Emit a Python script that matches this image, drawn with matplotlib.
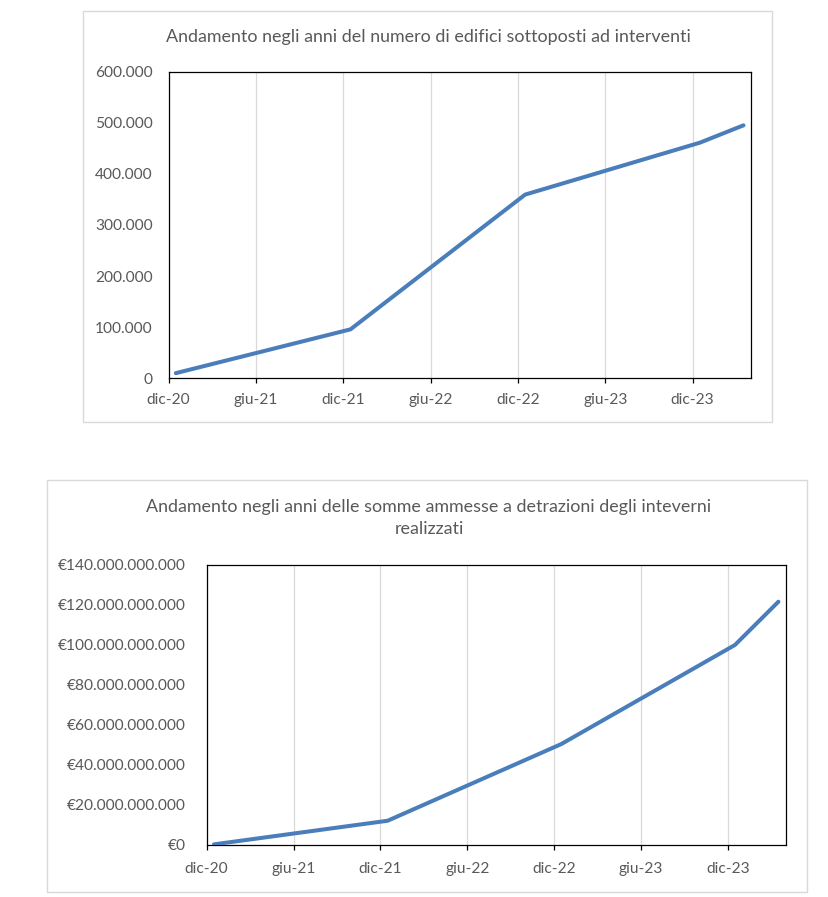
import matplotlib
matplotlib.use("Agg")
import matplotlib.pyplot as plt
from matplotlib.patches import Rectangle
from matplotlib.ticker import FuncFormatter, MultipleLocator

# ---- data ----
months = ["2020-12", "2021-12", "2022-12", "2023-12", "2024-03"]
edifici = [10000, 95718, 359440, 461000, 494990]
somme = [0.3e9, 12.1e9, 50.4e9, 99.9e9, 121.5e9]
tick_labels = ["dic-20", "giu-21", "dic-21", "giu-22", "dic-22", "giu-23", "dic-23"]
title_top = "Andamento negli anni del numero di edifici sottoposti ad interventi"
title_bot = "Andamento negli anni delle somme ammesse a detrazioni degli inteverni\nrealizzati"

def month_index(s):
    y, m = s.split("-")
    return (int(y) - 2020) * 12 + int(m) - 12

xpos = [month_index(m) + 0.5 for m in months]  # points at centre of month slot
n_months = month_index("2024-03") + 1

FONT = "Lato"
GRAY = "#595959"
BLUE = "#4a7ebb"

fig = plt.figure(figsize=(8.29, 8.97), dpi=100)

# chart frames
for (l, b, w, h) in [(0.1001, 0.5295, 0.8311, 0.4582), (0.0567, 0.0056, 0.9168, 0.4593)]:
    fig.patches.append(Rectangle((l, b), w, h, transform=fig.transFigure,
                                 facecolor="none", edgecolor="#d9d9d9", lw=1.0, zorder=-1))

def style(ax, values, ymax, ystep, fmt):
    ax.plot(xpos, values, color=BLUE, lw=2.9, solid_capstyle="round",
            solid_joinstyle="round", zorder=3)
    ax.set_xlim(0, n_months)
    ax.set_ylim(0, ymax)
    ax.set_xticks([i * 6 for i in range(len(tick_labels))])
    ax.set_xticklabels(tick_labels)
    ax.yaxis.set_major_locator(MultipleLocator(ystep))
    ax.yaxis.set_major_formatter(FuncFormatter(fmt))
    ax.grid(axis="x", color="#d9d9d9", lw=0.9, zorder=0)
    ax.set_axisbelow(True)
    for s in ax.spines.values():
        s.set_color("black")
        s.set_linewidth(0.9)
    ax.tick_params(axis="x", direction="out", length=3.6, width=0.9, color="black",
                   pad=7, labelsize=11.2, labelcolor=GRAY)
    ax.tick_params(axis="y", length=0, pad=11.5, labelsize=11.2, labelcolor=GRAY)
    for lab in ax.get_xticklabels() + ax.get_yticklabels():
        lab.set_fontfamily(FONT)

def fmt_num(v, p):
    return f"{v:,.0f}".replace(",", ".")

def fmt_eur(v, p):
    return "€" + f"{v:,.0f}".replace(",", ".")

ax1 = fig.add_axes([0.2033, 0.5783, 0.7023, 0.3418])
style(ax1, edifici, 600000, 100000, fmt_num)

ax2 = fig.add_axes([0.2493, 0.0580, 0.6984, 0.3125])
style(ax2, somme, 140e9, 20e9, fmt_eur)
ax2.tick_params(axis="y", pad=15)
ax2.tick_params(axis="x", pad=8.5)

fig.text(0.5163, 0.9588, title_top, ha="center", va="center", fontsize=12.9,
         color=GRAY, fontfamily=FONT)
fig.text(0.5175, 0.4225, title_bot, ha="center", va="center", fontsize=12.9,
         color=GRAY, fontfamily=FONT, multialignment="center", linespacing=1.45)

fig.savefig("out.png", dpi=100, facecolor="white")
